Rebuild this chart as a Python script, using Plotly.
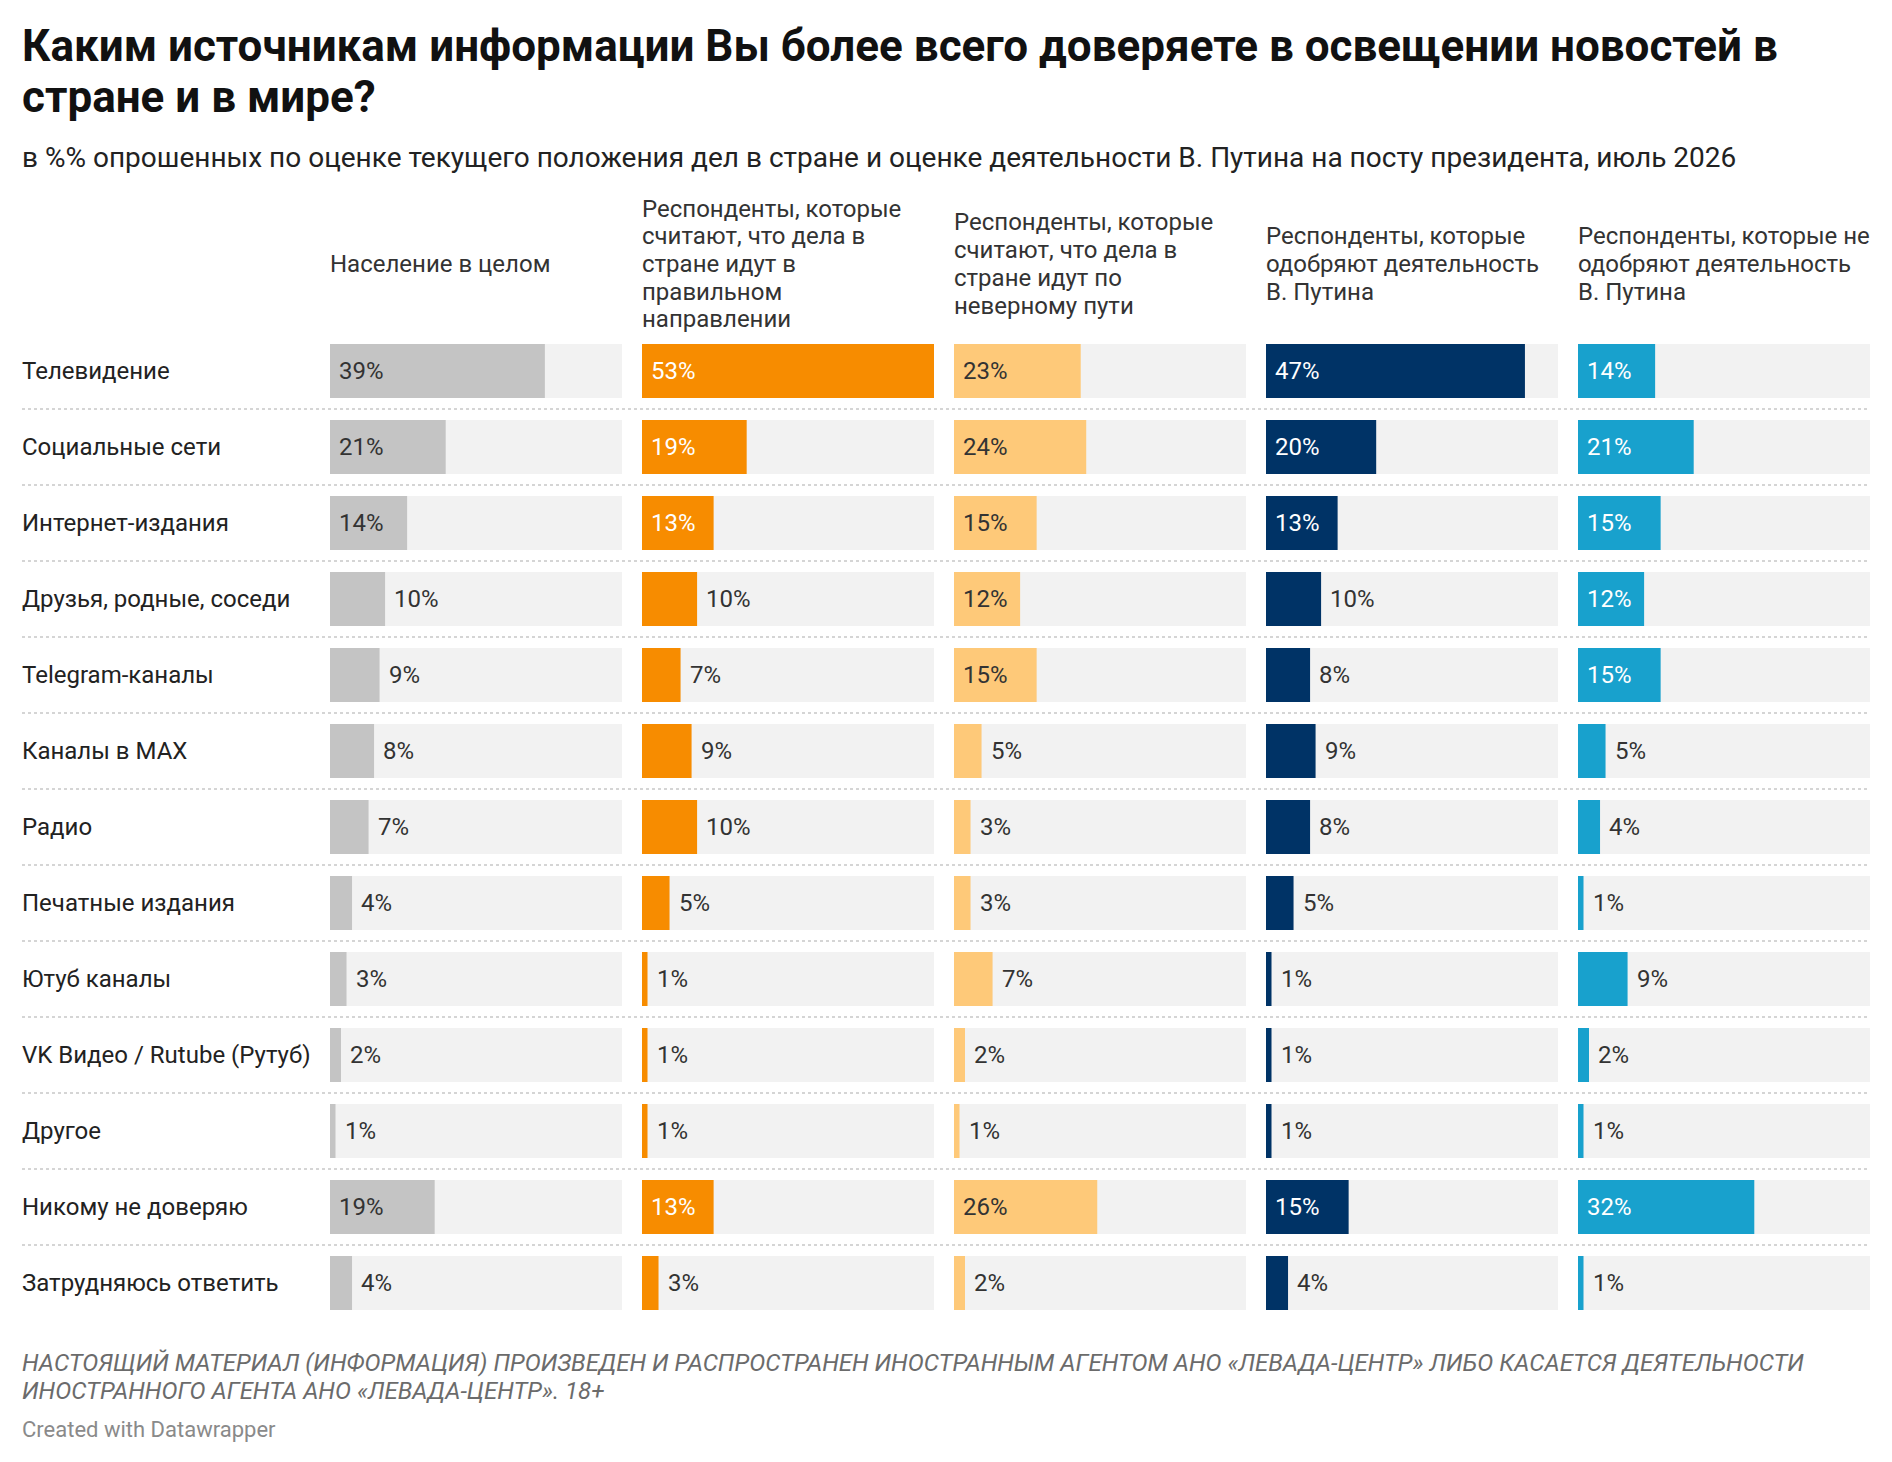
import plotly.graph_objects as go

categories = [
    "Телевидение", "Социальные сети", "Интернет-издания", "Друзья, родные, соседи",
    "Telegram-каналы", "Каналы в MAX", "Радио", "Печатные издания", "Ютуб каналы",
    "VK Видео / Rutube (Рутуб)", "Другое", "Никому не доверяю", "Затрудняюсь ответить",
]
population = [39, 21, 14, 10, 9, 8, 7, 4, 3, 2, 1, 19, 4]
right_direction = [53, 19, 13, 10, 7, 9, 10, 5, 1, 1, 1, 13, 3]
wrong_path = [23, 24, 15, 12, 15, 5, 3, 3, 7, 2, 1, 26, 2]
approve = [47, 20, 13, 10, 8, 9, 8, 5, 1, 1, 1, 15, 4]
disapprove = [14, 21, 15, 12, 15, 5, 4, 1, 9, 2, 1, 32, 1]

column_titles = [
    ["Население в целом"],
    ["Респонденты, которые", "считают, что дела в", "стране идут в", "правильном", "направлении"],
    ["Респонденты, которые", "считают, что дела в", "стране идут по", "неверному пути"],
    ["Респонденты, которые", "одобряют деятельность", "В. Путина"],
    ["Респонденты, которые не", "одобряют деятельность", "В. Путина"],
]
series = [population, right_direction, wrong_path, approve, disapprove]
bar_colors = ["#c4c4c4", "#f78c00", "#fec979", "#003366", "#18a1cd"]
inside_text_colors = ["#333333", "#ffffff", "#333333", "#ffffff", "#ffffff"]

title_lines = ["Каким источникам информации Вы более всего доверяете в освещении новостей в",
               "стране и в мире?"]
subtitle = ("в %% опрошенных по оценке текущего положения дел в стране и оценке деятельности "
            "В. Путина на посту президента, июль 2026")
footnote_lines = ["НАСТОЯЩИЙ МАТЕРИАЛ (ИНФОРМАЦИЯ) ПРОИЗВЕДЕН И РАСПРОСТРАНЕН ИНОСТРАННЫМ АГЕНТОМ АНО "
                  "«ЛЕВАДА-ЦЕНТР» ЛИБО КАСАЕТСЯ ДЕЯТЕЛЬНОСТИ",
                  "ИНОСТРАННОГО АГЕНТА АНО «ЛЕВАДА-ЦЕНТР». 18+"]
credit = "Created with Datawrapper"

W, H = 1892, 1462
TOP, BOTTOM = 333, 1321
PLOT_H = BOTTOM - TOP
COL_LEFT0, COL_W, COL_STEP = 330, 292, 312
FONT = "Roboto"
TEXT = "#333333"

vmax = max(max(s) for s in series)


def py(ypx):
    return (BOTTOM - ypx) / PLOT_H


def text_line(x_px, y_px, text, size, color, **fontkw):
    return dict(xref="paper", yref="paper", x=x_px / W, y=py(y_px), text=text,
                showarrow=False, xanchor="left", yanchor="middle", align="left",
                font=dict(family=FONT, size=size, color=color, **fontkw))


fig = go.Figure()
annotations = []

for i, (vals, color) in enumerate(zip(series, bar_colors)):
    xa = "x" if i == 0 else f"x{i + 1}"
    fig.add_trace(go.Bar(
        y=categories, x=[vmax] * len(categories), orientation="h",
        marker=dict(color="#f2f2f2", line_width=0), width=0.71,
        xaxis=xa, yaxis="y", hoverinfo="skip", showlegend=False,
    ))
    fig.add_trace(go.Bar(
        y=categories, x=vals, orientation="h",
        marker=dict(color=color, line_width=0), width=0.71,
        xaxis=xa, yaxis="y", showlegend=False,
    ))
    left = COL_LEFT0 + i * COL_STEP
    dom = [left / W, (left + COL_W) / W]
    ax = dict(domain=dom, range=[0, vmax], visible=False, fixedrange=True, anchor="y")
    if i == 0:
        fig.update_layout(xaxis=ax)
    else:
        fig.update_layout(**{f"xaxis{i + 1}": ax})

    for cat, v in zip(categories, vals):
        inside = v >= 12
        annotations.append(dict(
            xref=xa, yref="y", x=0 if inside else v, y=cat,
            text=f"{v}%", showarrow=False, xanchor="left", yanchor="middle",
            xshift=7, font=dict(family=FONT, size=24,
                                color=inside_text_colors[i] if inside else TEXT),
        ))

    lines = column_titles[i]
    n = len(lines)
    for k, line in enumerate(lines):
        yc = 264 + (k - (n - 1) / 2) * 27.7
        annotations.append(text_line(left - 2, yc, line, 24, TEXT))

for cat in categories:
    annotations.append(dict(
        xref="paper", yref="y", x=22 / W, y=cat, text=cat, showarrow=False,
        xanchor="left", yanchor="middle", xshift=-2,
        font=dict(family=FONT, size=24, color="#222222"),
    ))

annotations.append(text_line(20, 46, title_lines[0], 44, "#111111", weight=700))
annotations.append(text_line(20, 97, title_lines[1], 44, "#111111", weight=700))
annotations.append(text_line(20, 157, subtitle, 28, "#222222"))
annotations.append(text_line(20, 1363, footnote_lines[0], 24, "#6b6b6b", style="italic"))
annotations.append(text_line(20, 1391, footnote_lines[1], 24, "#6b6b6b", style="italic"))
annotations.append(text_line(20, 1429, credit, 22, "#8a8a8a"))

shapes = []
for k in range(len(categories) - 1):
    shapes.append(dict(
        type="line", xref="paper", yref="y", x0=22 / W, x1=1870 / W,
        y0=k + 0.5, y1=k + 0.5, line=dict(color="#c8c8c8", width=1.5, dash="dot"),
    ))

fig.update_layout(
    width=W, height=H,
    margin=dict(l=0, r=0, t=TOP, b=H - BOTTOM, pad=0),
    barmode="overlay",
    paper_bgcolor="white", plot_bgcolor="white",
    yaxis=dict(type="category", categoryorder="array", categoryarray=categories,
               range=[len(categories) - 0.5, -0.5], visible=False, fixedrange=True),
    annotations=annotations, shapes=shapes,
    font=dict(family=FONT, color=TEXT),
)

fig.write_html("out.html", config={"displayModeBar": False},
               post_script="document.body.style.margin='0';")
